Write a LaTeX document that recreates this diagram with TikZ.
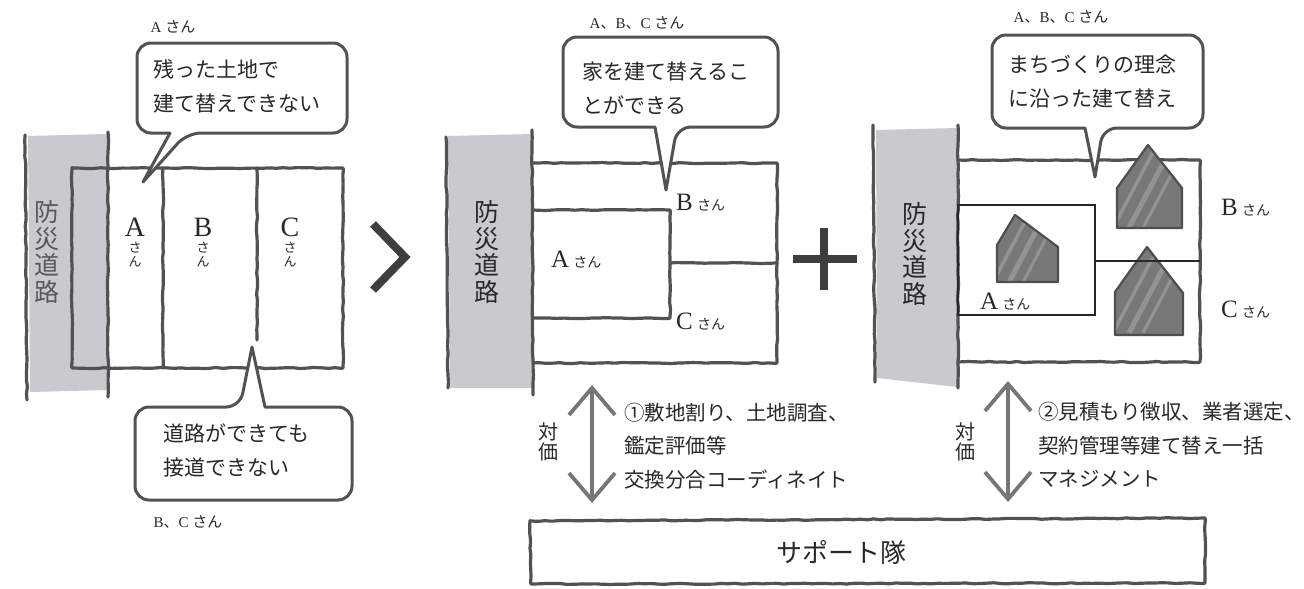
\documentclass[tikz,border=0pt]{standalone}
\usepackage{fontspec}
\setmainfont{Liberation Serif}
\newfontfamily\jp{Noto Sans CJK JP}
\usetikzlibrary{decorations.pathmorphing,arrows.meta}

\definecolor{pencil}{RGB}{82,82,82}
\definecolor{ink}{RGB}{40,40,40}
\definecolor{roadgray}{RGB}{201,202,205}
\definecolor{roadink}{RGB}{88,88,88}
\definecolor{housegray}{RGB}{120,120,120}
\definecolor{houseline}{RGB}{78,78,78}
\definecolor{markgray}{RGB}{62,62,62}
\definecolor{arrowgray}{RGB}{118,118,118}

% small honorific set after a lot letter
\newcommand{\smallsan}{{\jp\fontsize{14}{14}\selectfont さん}}
% pale pencil streaks across a shaded house, centred on (#1,#2)
\newcommand{\housestreaks}[2]{%
  \foreach \d/\w in {-17/3.5,-1/5,13/3}
    \draw[white,opacity=0.2,line width=\w pt] (#1+\d-20,#2+38) -- (#1+\d+20,#2-38);}

\begin{document}
\begin{tikzpicture}[x=1pt,y=-1pt,
  sketch/.style={draw=pencil,line width=3.2pt,line join=round,line cap=round,
    rounded corners=1pt,decorate,
    decoration={random steps,segment length=7pt,amplitude=0.55pt}},
  crisp/.style={draw=ink,line width=1.8pt},
  balloon/.style={draw=pencil,line width=3pt,line join=round,fill=white},
  house/.style={draw=houseline,line width=2.2pt,line join=round},
  heavy/.style={draw=markgray,line width=8pt},
  twoway/.style={draw=arrowgray,line width=3.8pt,<->,
    >={Straight Barb[length=27pt,width=46pt]}},
  roadtext/.style={font=\jp\fontsize{25}{26.5}\selectfont,align=center,inner sep=0pt},
  say/.style={font=\jp\fontsize{21}{34}\selectfont,text=ink,align=left,anchor=west,inner sep=0pt},
  note/.style={font=\jp\fontsize{20.5}{33.5}\selectfont,text=ink,align=left,anchor=west,inner sep=0pt},
  price/.style={font=\jp\fontsize{20}{20.5}\selectfont,text=ink,align=center,inner sep=0pt},
  who/.style={font=\fontsize{15}{17}\selectfont,text=ink,inner sep=0pt},
  lotname/.style={font=\fontsize{25}{27}\selectfont,text=ink,anchor=west,inner sep=0pt},
]
\pgfmathsetseed{42}
\useasboundingbox (0,0) rectangle (1304,589);

% ---------- before: three strip lots ----------
\fill[roadgray] (28,136) -- (107,134) -- (107,390) -- (30,392) -- cycle;
\draw[sketch] (25,135) -- (27,400);
\draw[sketch] (108,132) -- (108,397);
\draw[sketch] (72,168) -- (343,168) -- (343,368) -- (72,368) -- cycle;
\draw[sketch] (163,168) -- (163,368);
\draw[sketch] (257,168) -- (257,340);
\node[roadtext,text=roadink] (road1) at (47,252) {防\\災\\道\\路};
\node[font=\fontsize{28}{28}\selectfont,text=ink,inner sep=0pt] (lotA1) at (135,227) {A};
\node[font=\fontsize{28}{28}\selectfont,text=ink,inner sep=0pt] (lotB1) at (203,227) {B};
\node[font=\fontsize{28}{28}\selectfont,text=ink,inner sep=0pt] (lotC1) at (290,227) {C};
\node[font=\jp\fontsize{13}{14}\selectfont,text=ink,align=center,inner sep=0pt] (sanA1) at (135,255) {さ\\ん};
\node[font=\jp\fontsize{13}{14}\selectfont,text=ink,align=center,inner sep=0pt] (sanB1) at (203,255) {さ\\ん};
\node[font=\jp\fontsize{13}{14}\selectfont,text=ink,align=center,inner sep=0pt] (sanC1) at (290,255) {さ\\ん};

\draw[balloon] (137,88) [rounded corners=14pt] -- (137,43) -- (347,43) -- (347,133) -- (187,133)
  [sharp corners] -- (143,182) -- (170,133) [rounded corners=14pt] -- (137,133) -- cycle;
\draw[balloon] (135,450) [rounded corners=14pt] -- (135,407) -- (240,407)
  [sharp corners] -- (252,347) -- (265,407) [rounded corners=14pt] -- (352,407) -- (352,500)
  -- (135,500) -- cycle;
\node[say] (say1) at (153,86.5) {残った土地で\\建て替えできない};
\node[say] (say2) at (163,450.5) {道路ができても\\接道できない};
\node[who] (tagA) at (173,27) {A {\jp さん}};
\node[who] (tagBC) at (188,522) {B{\jp 、}C {\jp さん}};

% chevron between the first two plans
\draw[heavy] (373,224) -- (405,257) -- (373,290);

% ---------- after exchange: regrouped lots ----------
\fill[roadgray] (448,136) -- (532,134) -- (532,388) -- (450,388) -- cycle;
\draw[sketch] (446,137) -- (448,388);
\draw[sketch] (532,130) -- (533,395);
\draw[sketch] (533,163) -- (777,163) -- (777,363) -- (533,363);
\draw[sketch] (533,210) -- (670,210) -- (670,318) -- (533,318);
\draw[sketch] (670,263) -- (777,263);
\node[roadtext,text=ink] (road2) at (487,252) {防\\災\\道\\路};
\node[lotname] (lotA2) at (551,260) {A\,\smallsan};
\node[lotname] (lotB2) at (676,203) {B\,\smallsan};
\node[lotname] (lotC2) at (676,322) {C\,\smallsan};

\draw[balloon] (563,82) [rounded corners=14pt] -- (563,37) -- (778,37) -- (778,127) -- (677,127)
  [sharp corners] -- (666,190) -- (655,127) [rounded corners=14pt] -- (563,127) -- cycle;
\node[say] (say3) at (582,88) {家を建て替えるこ\\とができる};
\node[who] (tagABC2) at (637,23) {A{\jp 、}B{\jp 、}C {\jp さん}};

% plus sign
\draw[heavy] (824,228) -- (824,290);
\draw[heavy] (793,259) -- (857,259);

% ---------- rebuilt houses ----------
\fill[roadgray] (876,130) -- (957,128) -- (957,387) -- (877,378) -- cycle;
\draw[sketch] (873,125) -- (875,382);
\draw[sketch] (958,125) -- (958,388);
\draw[sketch] (958,160) -- (1200,160) -- (1200,362) -- (958,362);
\node[roadtext,text=ink] (road3) at (915,254) {防\\災\\道\\路};

\fill[housegray] (997,282) -- (997,245) -- (1015,215) -- (1058,247) -- (1058,282) -- cycle;
\begin{scope}
  \clip (997,282) -- (997,245) -- (1015,215) -- (1058,247) -- (1058,282) -- cycle;
  \housestreaks{1027}{250}
\end{scope}
\draw[house] (997,282) -- (997,245) -- (1015,215) -- (1058,247) -- (1058,282) -- cycle;

\fill[housegray] (1117,228) -- (1117,188) -- (1148,145) -- (1182,188) -- (1182,228) -- cycle;
\begin{scope}
  \clip (1117,228) -- (1117,188) -- (1148,145) -- (1182,188) -- (1182,228) -- cycle;
  \housestreaks{1150}{190}
\end{scope}
\draw[house] (1117,228) -- (1117,188) -- (1148,145) -- (1182,188) -- (1182,228) -- cycle;

\fill[housegray] (1115,335) -- (1115,292) -- (1147,247) -- (1183,293) -- (1183,335) -- cycle;
\begin{scope}
  \clip (1115,335) -- (1115,292) -- (1147,247) -- (1183,293) -- (1183,335) -- cycle;
  \housestreaks{1150}{295}
\end{scope}
\draw[house] (1115,335) -- (1115,292) -- (1147,247) -- (1183,293) -- (1183,335) -- cycle;

\draw[crisp] (1095,261) -- (1200,261);
\draw[crisp] (958,205) rectangle (1095,315);
\node[lotname] (lotA3) at (980,302) {A\,\smallsan};
\node[lotname] (lotB3) at (1221,208) {B\,\smallsan};
\node[lotname] (lotC3) at (1221,310) {C\,\smallsan};

\draw[balloon] (992,80) [rounded corners=14pt] -- (992,35) -- (1203,35) -- (1203,128) -- (1103,128)
  [sharp corners] -- (1095,177) -- (1085,128) [rounded corners=14pt] -- (992,128) -- cycle;
\node[say] (say4) at (1008,81.5) {まちづくりの理念\\に沿った建て替え};
\node[who] (tagABC3) at (1061,17) {A{\jp 、}B{\jp 、}C {\jp さん}};

% ---------- support team and the services paid for ----------
\coordinate (up1) at (592,385);
\coordinate (dn1) at (592,503);
\draw[twoway] (up1) -- (dn1);
\node[price] (price1) at (548,442) {対\\価};
\node[note] (note1) at (624,446) {①敷地割り、土地調査、\\鑑定評価等\\交換分合コーディネイト};

\coordinate (up2) at (1008,381);
\coordinate (dn2) at (1008,502);
\draw[twoway] (up2) -- (dn2);
\node[price] (price2) at (965,442) {対\\価};
\node[note] (note2) at (1038,445) {②見積もり徴収、業者選定、\\契約管理等建て替え一括\\マネジメント};

\draw[sketch] (530,521) -- (1205,518) -- (1205,583) -- (531,584) -- cycle;
\node[font=\jp\fontsize{26}{26}\selectfont,text=ink,inner sep=0pt] (support) at (841,552) {サポート隊};
\end{tikzpicture}
\end{document}
